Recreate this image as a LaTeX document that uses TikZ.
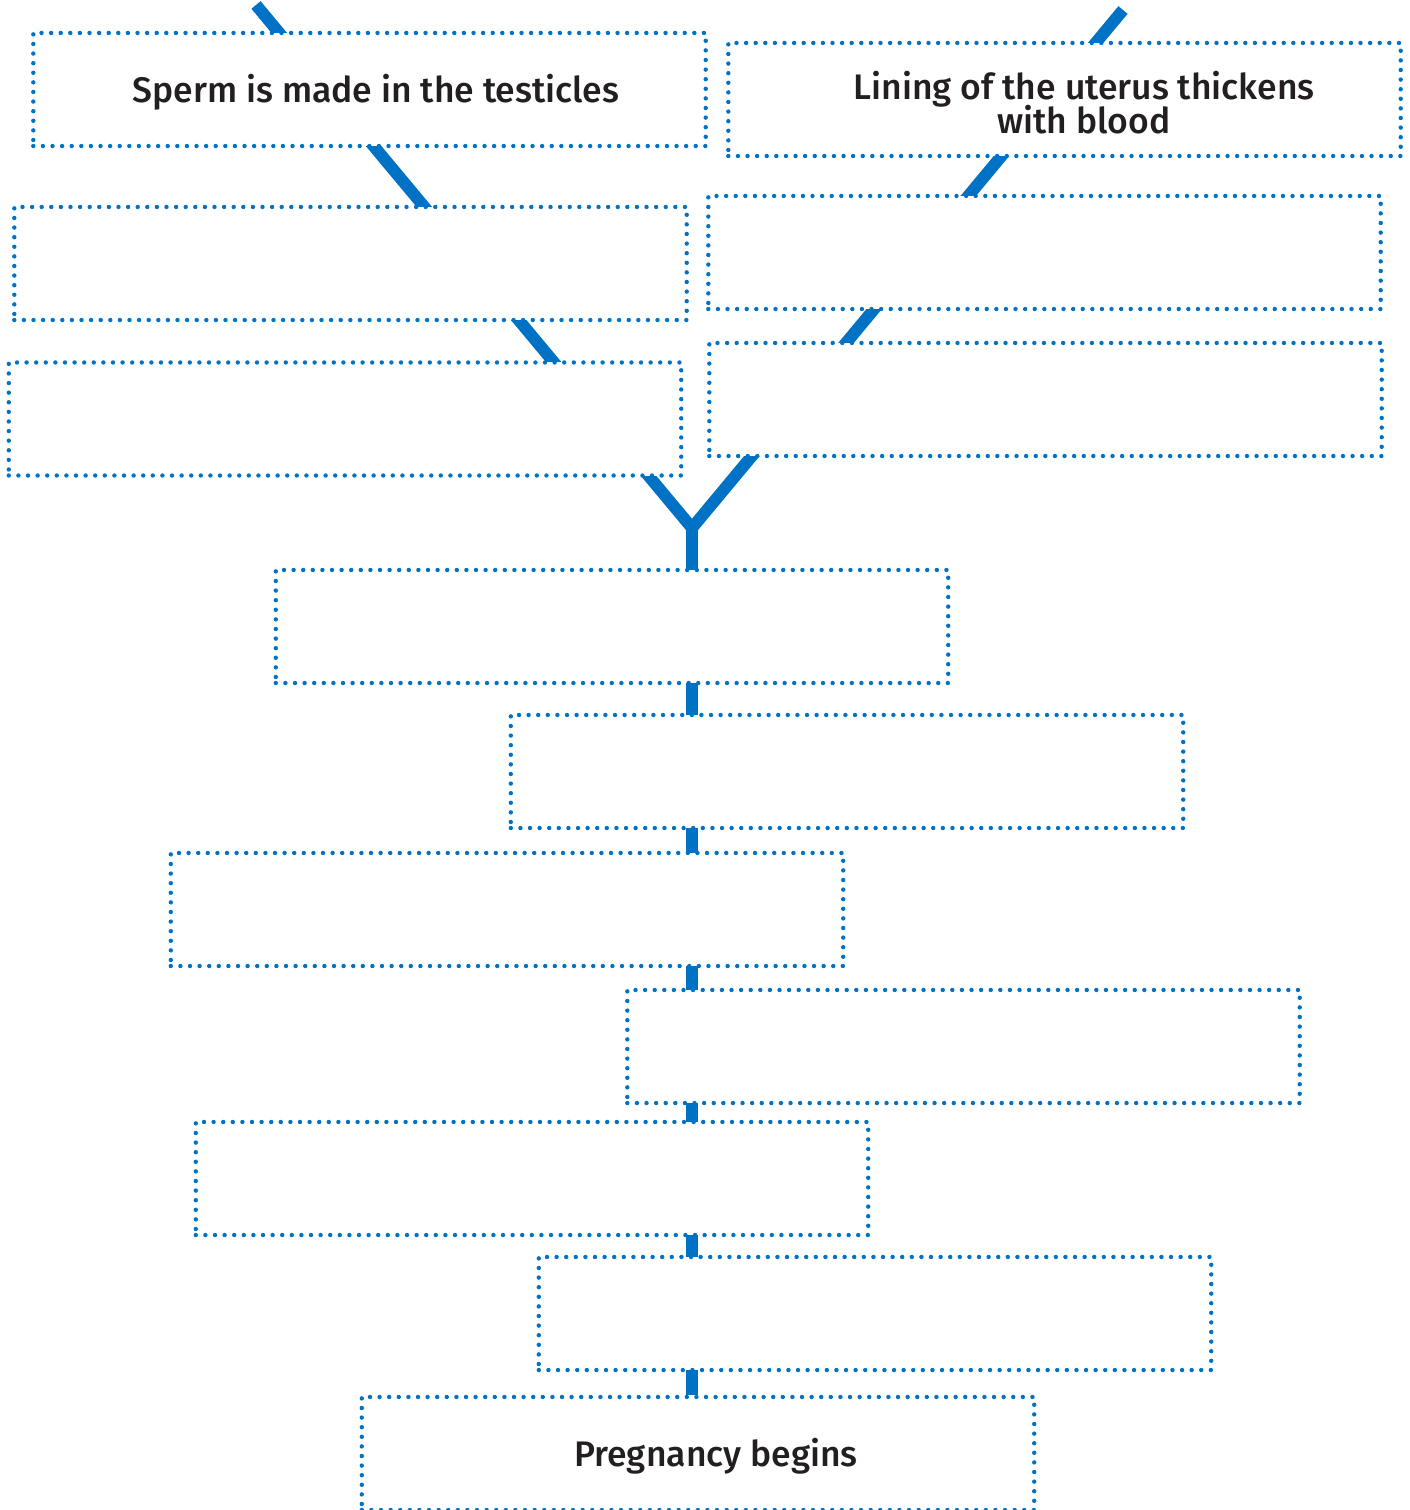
\documentclass[tikz,border=0pt]{standalone}
\usepackage{fontspec}
\setmainfont{Fira Sans}
\newfontfamily\boxfont{Fira Sans Medium}
\newcommand\boxtype{\boxfont\fontsize{10.1}{9.8}\selectfont\lineskiplimit=-10pt\relax}
\usetikzlibrary{positioning,backgrounds}
\definecolor{flowblue}{RGB}{0,114,198}
\definecolor{inkgrey}{RGB}{35,31,32}

\begin{document}
\begin{tikzpicture}[
    x=0.01cm, y=-0.01cm,
    stepbox/.style={
      rectangle,
      draw=flowblue,
      fill=white,
      line width=1.25pt,
      line cap=round,
      dash pattern=on 0pt off 2.73pt,
      minimum width=6.72cm,
      minimum height=1.13cm,
      inner sep=0pt
    },
    lbl/.style={
      font=\boxtype,
      text=inkgrey,
      align=center,
      yshift=-0.03cm
    },
    link/.style={
      draw=flowblue,
      line width=3.4pt
    }
  ]
    \useasboundingbox (0,0) rectangle (1410,1510);

    % Where the two chains start and meet
    \coordinate (ltop) at (256,5);
    \coordinate (rtop) at (1123,10);
    \coordinate (join) at (692,528);

    % Left chain
    \node[stepbox, label={[lbl, xshift=0.065cm]center:Sperm is made in the testicles}] (sperm) at (369.5,89.5) {};
    \node[stepbox] (left2) at (350.5,263.5) {};
    \node[stepbox] (left3) at (345,419) {};

    % Right chain
    \node[stepbox, label={[lbl, xshift=0.195cm]center:Lining of the uterus thickens\\with blood}] (lining) at (1064.5,99.5) {};
    \node[stepbox] (right2) at (1044.5,252.5) {};
    \node[stepbox] (right3) at (1045.5,399.5) {};

    % Joint chain
    \node[stepbox] (mid1) at (612,626.5) {};
    \node[stepbox] (mid2) at (847,771.5) {};
    \node[stepbox] (mid3) at (507,909.5) {};
    \node[stepbox] (mid4) at (963.5,1046.5) {};
    \node[stepbox] (mid5) at (532,1178.5) {};
    \node[stepbox] (mid6) at (875,1313.5) {};
    \node[stepbox, label={[lbl, xshift=0.18cm]center:Pregnancy begins}] (preg) at (698,1453.5) {};

    % Connectors behind the boxes
    \begin{scope}[on background layer]
      \draw[link, line join=miter] (ltop) -- (join) -- (rtop);
      \draw[link] (join) -- (join |- preg.north);
    \end{scope}

  \end{tikzpicture}
\end{document}
